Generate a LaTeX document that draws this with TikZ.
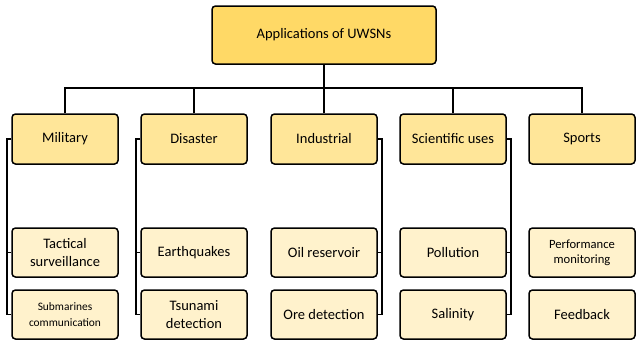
\documentclass[tikz,border=0pt]{standalone}
\usepackage{fontspec}
\setmainfont{Carlito}
\definecolor{rootfill}{HTML}{FFD966}
\definecolor{catfill}{HTML}{FFE699}
\definecolor{leaffill}{HTML}{FFF2CC}
\tikzset{
  box/.style={draw=black, line width=1.5pt, rounded corners=3.5pt, align=center,
    inner sep=0pt, font=\fontsize{14.5}{17.5}\selectfont},
  rootbox/.style={box, fill=rootfill, minimum width=224pt, minimum height=58pt},
  catbox/.style={box, fill=catfill, minimum width=106pt, minimum height=50pt},
  leafbox/.style={box, fill=leaffill, minimum width=106pt, minimum height=49pt},
  small/.style={font=\fontsize{11.4}{16}\selectfont},
  medium/.style={font=\fontsize{12.6}{15}\selectfont},
  link/.style={draw=black, line width=1.8pt}
}
\begin{document}
\begin{tikzpicture}[x=1pt, y=-1pt]
\useasboundingbox (0,0) rectangle (636,343);

% root
\node[rootbox] (root) at (324,35) {Applications of UWSNs};

% categories
\node[catbox] (mil) at (65,139)  {Military};
\node[catbox] (dis) at (194,139) {Disaster};
\node[catbox] (ind) at (324,139) {Industrial};
\node[catbox] (sci) at (453,139) {Scientific uses};
\node[catbox] (spo) at (582,139) {Sports};

% leaves
\node[leafbox] (milA) at (65,252.5)  {Tactical\\surveillance};
\node[leafbox, small] (milB) at (65,314.5) {Submarines\\communication};
\node[leafbox] (disA) at (194,252.5) {Earthquakes};
\node[leafbox] (disB) at (194,314.5) {Tsunami\\detection};
\node[leafbox] (indA) at (324,252.5) {Oil reservoir};
\node[leafbox] (indB) at (324,314.5) {Ore detection};
\node[leafbox] (sciA) at (453,252.5) {Pollution};
\node[leafbox] (sciB) at (453,314.5) {Salinity};
\node[leafbox, medium] (spoA) at (582,252.5) {Performance\\monitoring};
\node[leafbox] (spoB) at (582,314.5) {Feedback};

% tree connectors
\coordinate (bar) at (0,88);
\draw[link] (root.south) -- (root.south |- bar);
\draw[link] (mil.north) -- (mil.north |- bar) -- (spo.north |- bar) -- (spo.north);
\draw[link] (dis.north) -- (dis.north |- bar);
\draw[link] (ind.north) -- (ind.north |- bar);
\draw[link] (sci.north) -- (sci.north |- bar);

% brackets to leaves
\draw[link] (mil.west) -- ++(-4,0) |- (milB.west);
\draw[link] (milA.west) -- ++(-4,0);
\draw[link] (dis.west) -- ++(-4,0) |- (disB.west);
\draw[link] (disA.west) -- ++(-4,0);
\draw[link] (ind.east) -- ++(4,0) |- (indB.east);
\draw[link] (indA.east) -- ++(4,0);
\draw[link] (sci.east) -- ++(4,0) |- (sciB.east);
\draw[link] (sciA.east) -- ++(4,0);
\end{tikzpicture}
\end{document}
